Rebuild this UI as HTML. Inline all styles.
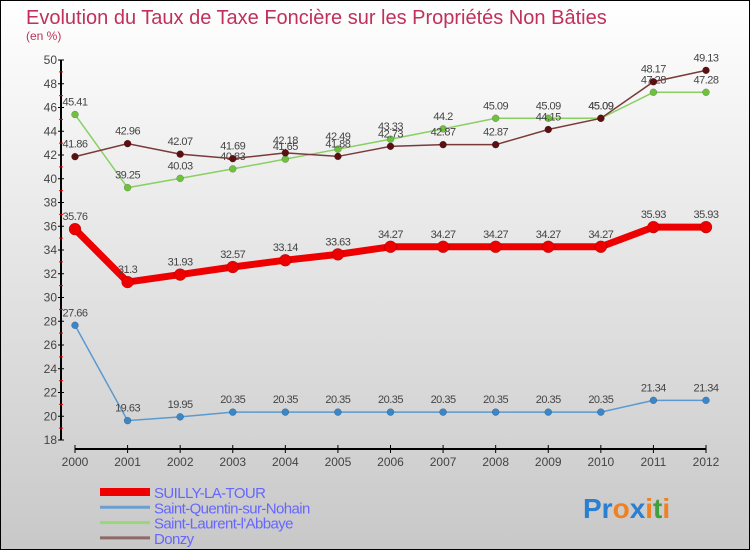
<!DOCTYPE html>
<html><head><meta charset="utf-8"><style>
body{margin:0}
#c{width:750px;height:550px;position:relative;box-sizing:border-box;border:1px solid #000;background:linear-gradient(#fff,#c8c8c8);font-family:"Liberation Sans",sans-serif;overflow:hidden}
</style></head><body>
<div id="c">
<svg id="s" width="750" height="550" style="position:absolute;left:-1px;top:-1px">
<text x="26" y="24" font-size="20" fill="#c0305a">Evolution du Taux de Taxe Foncière sur les Propriétés Non Bâties</text>
<text x="26" y="40" font-size="12" fill="#c0305a">(en %)</text>
<g id="axes"></g><g id="series"></g><g id="legend"></g>
<text x="583" y="518" font-size="28" font-weight="bold"><tspan fill="#2a7fd0">Pr</tspan><tspan fill="#f08020">o</tspan><tspan fill="#2a7fd0">x</tspan><tspan fill="#f08020">i</tspan><tspan fill="#40a040">t</tspan><tspan fill="#f08020">i</tspan></text>
</svg></div>
<script>
const years=[2000,2001,2002,2003,2004,2005,2006,2007,2008,2009,2010,2011,2012];
const yTicks=[18,20,22,24,26,28,30,32,34,36,38,40,42,44,46,48,50];
const seriesNames=["SUILLY-LA-TOUR","Saint-Quentin-sur-Nohain","Saint-Laurent-l'Abbaye","Donzy"];
const suilly=[35.76,31.3,31.93,32.57,33.14,33.63,34.27,34.27,34.27,34.27,34.27,35.93,35.93];
const stQuentin=[27.66,19.63,19.95,20.35,20.35,20.35,20.35,20.35,20.35,20.35,20.35,21.34,21.34];
const stLaurent=[45.41,39.25,40.03,40.83,41.65,42.49,43.33,44.2,45.09,45.09,45.09,47.28,47.28];
const donzy=[41.86,42.96,42.07,41.69,42.18,41.88,42.73,42.87,42.87,44.15,45.09,48.17,49.13];
const NS="http://www.w3.org/2000/svg";
const x=i=>75+i*(706-75)/(years.length-1);
const y=v=>60+(50-v)*(440-60)/32;
function mk(p,t,a){const e=document.createElementNS(NS,t);for(const k in a)e.setAttribute(k,a[k]);p.appendChild(e);return e;}
const ax=document.getElementById('axes');
let e=mk(ax,'line',{x1:61,y1:y(50),x2:61,y2:y(18),stroke:'#000','stroke-width':2});


yTicks.forEach((v,i)=>{
  const t=mk(ax,'line',{x1:58,x2:64,y1:y(v),y2:y(v),stroke:'#000'});
  
  
  const l=mk(ax,'text',{x:57,y:y(v)+4,'font-size':12,fill:'#444','text-anchor':'end'});l.textContent=v;
  
  
  if(i<yTicks.length-1){
   const m=mk(ax,'line',{x1:59,x2:63,y1:y(v+1),y2:y(v+1),stroke:'#e00'});
   
   
  }
});
e=mk(ax,'line',{x1:75,y1:449,x2:706,y2:449,stroke:'#000','stroke-width':2});


years.forEach((yr,i)=>{
 const t=mk(ax,'line',{x1:x(i),x2:x(i),y1:445,y2:453,stroke:'#000'});
 
 
 const l=mk(ax,'text',{x:x(i),y:466,'font-size':12,fill:'#444','text-anchor':'middle'});l.textContent=yr;
 
 
});
const sg=document.getElementById('series');
const defs=[[stLaurent,'#88d060','#70c040',1.5,3.5],[donzy,'#7a3a3a','#5a1010',1.5,3.5],[stQuentin,'#5a9ad0','#3a86c8',1.5,3.5],[suilly,'#ee0000','#ee0000',7,6]];
const names=["Saint-Laurent-l'Abbaye","Donzy","Saint-Quentin-sur-Nohain","SUILLY-LA-TOUR"];
defs.forEach(([d,lc,pc,w,r],k)=>{
 const pl=mk(sg,'polyline',{points:d.map((v,i)=>x(i)+','+y(v)).join(' '),fill:'none',stroke:lc,'stroke-width':w});
 
 
 d.forEach((v,i)=>{
  const c=mk(sg,'circle',{cx:x(i),cy:y(v),r:r,fill:pc,stroke:'rgba(0,0,0,0.3)','stroke-width':0.5});
  
  
  const t=mk(sg,'text',{x:x(i),y:y(v)-9,'font-size':11,fill:'#444','text-anchor':'middle','letter-spacing':'-0.5'});t.textContent=v;
  
  
 });
});
const lg=document.getElementById('legend');
const lc=['#ee0000','#6aa0d0','#98d878','#906868'],lw=[8,3,3,3];
seriesNames.forEach((n,i)=>{
 const yy=492+i*15.3;
 const l=mk(lg,'line',{x1:100,x2:150,y1:yy,y2:yy,stroke:lc[i],'stroke-width':lw[i]});
 
 
 const t=mk(lg,'text',{x:154,y:yy+6,'font-size':15,fill:'#6666ff','letter-spacing':'-0.6'});t.textContent=n;
 
 
});
</script>
</body></html>
